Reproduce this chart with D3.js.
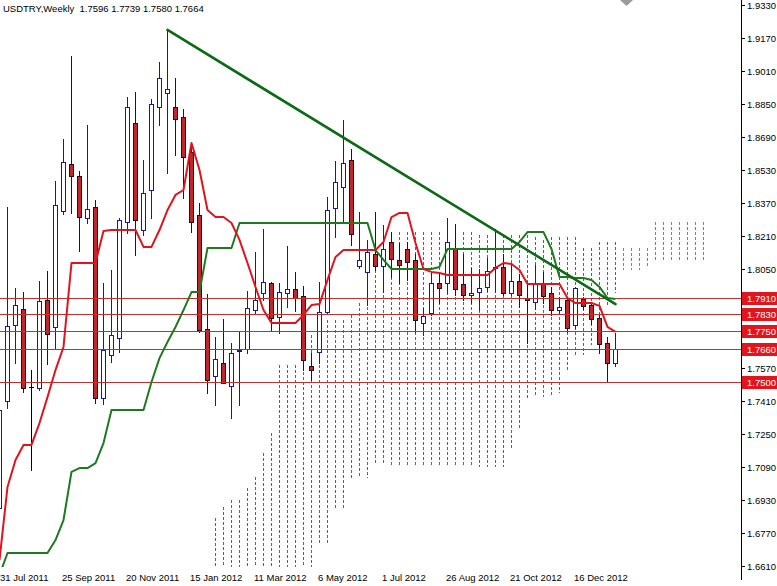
<!DOCTYPE html>
<html><head><meta charset="utf-8">
<script src="https://cdn.jsdelivr.net/npm/d3@7"></script>
<style>
html,body{margin:0;padding:0;background:#fff;}
svg{display:block;font-family:"Liberation Sans",Arial,sans-serif;}
</style></head>
<body>
<script>
// ---------- data ----------
const title = "USDTRY,Weekly  1.7596 1.7739 1.7580 1.7664";
const dateLabels = ["31 Jul 2011","25 Sep 2011","20 Nov 2011","15 Jan 2012","11 Mar 2012","6 May 2012","1 Jul 2012","26 Aug 2012","21 Oct 2012","16 Dec 2012"];
const dateLabelBars = [0,8,16,24,32,40,48,56,64,72];
const yTicks = [1.9330,1.9170,1.9010,1.8850,1.8690,1.8530,1.8370,1.8210,1.8050,1.7890,1.7730,1.7570,1.7410,1.7250,1.7090,1.6930,1.6770,1.6610];
const levels = [1.7910,1.7830,1.7750,1.7660,1.7500];

const open = [1.6891,1.7410,1.7778,1.7856,1.7478,1.7473,1.7900,1.7769,1.8331,1.8559,
1.8501,1.8297,1.8351,1.7425,1.7633,1.7716,1.8278,1.8758,1.8239,1.8433,
1.8835,1.8903,1.8835,1.8787,1.8617,1.8312,1.7759,1.7531,1.7594,1.7483,
1.7652,1.7662,1.7851,1.7934,1.7982,1.7817,1.7934,1.7953,1.7919,1.7580,
1.7648,1.7842,1.8346,1.8448,1.8578,1.8065,1.8036,1.8123,1.8065,1.8181,
1.8094,1.8147,1.8094,1.7788,1.7837,1.7982,1.7982,1.8152,1.7977,1.7924,
1.7938,1.7963,1.8055,1.8060,1.7934,1.7992,1.7907,1.7890,1.7977,1.7934,
1.7851,1.7900,1.7778,1.7905,1.7875,1.7812,1.7691,1.7596];
const high = [1.7415,1.8351,1.7958,1.7938,1.7560,1.7992,1.8040,1.8477,1.8680,1.9083,
1.8525,1.8748,1.8385,1.7982,1.8045,1.8297,1.8884,1.8908,1.8578,1.8874,
1.9054,1.9209,1.8976,1.8826,1.8651,1.8370,1.7929,1.7720,1.7808,1.7691,
1.7745,1.7943,1.8132,1.8244,1.7987,1.7982,1.8162,1.8036,1.7968,1.7643,
1.7987,1.8399,1.8574,1.8772,1.8632,1.8326,1.8191,1.8326,1.8263,1.8229,
1.8176,1.8181,1.8123,1.7861,1.8031,1.8026,1.8297,1.8268,1.8123,1.8055,
1.8050,1.8103,1.8244,1.8123,1.8079,1.8026,1.7982,1.8069,1.8036,1.7963,
1.7914,1.7909,1.7963,1.7914,1.7885,1.7827,1.7720,1.7739];
const low = [1.6833,1.7376,1.7594,1.7454,1.7075,1.7463,1.7589,1.7667,1.8317,1.8322,
1.8137,1.8273,1.7400,1.7396,1.7599,1.7648,1.8225,1.8118,1.8215,1.8297,
1.8748,1.8515,1.8603,1.8394,1.8229,1.7745,1.7449,1.7391,1.7495,1.7328,
1.7391,1.7643,1.7837,1.7900,1.7754,1.7740,1.7866,1.7846,1.7560,1.7512,
1.7594,1.7837,1.8205,1.8278,1.8166,1.8055,1.7875,1.8045,1.7938,1.8011,
1.7982,1.7997,1.7745,1.7730,1.7827,1.7885,1.7934,1.7924,1.7900,1.7885,
1.7851,1.7943,1.7938,1.7924,1.7924,1.7866,1.7691,1.7856,1.7885,1.7827,
1.7837,1.7745,1.7764,1.7856,1.7783,1.7643,1.7500,1.7580];
const close = [1.7366,1.7774,1.7875,1.7473,1.7478,1.7895,1.7735,1.8360,1.8569,1.8501,
1.8302,1.8341,1.7425,1.7657,1.7730,1.8288,1.8835,1.8288,1.8418,1.8850,
1.8976,1.8923,1.8777,1.8593,1.8278,1.7754,1.7512,1.7614,1.7497,1.7643,
1.7657,1.7861,1.7900,1.7987,1.7812,1.7938,1.7953,1.7909,1.7609,1.7560,
1.7842,1.8336,1.8472,1.8564,1.8220,1.8094,1.8132,1.8065,1.8147,1.8099,
1.8069,1.8084,1.7803,1.7822,1.7982,1.7958,1.8181,1.7953,1.7924,1.7934,
1.7958,1.8040,1.8060,1.7934,1.7992,1.7924,1.7902,1.7977,1.7919,1.7851,
1.7866,1.7764,1.7958,1.7871,1.7808,1.7686,1.7596,1.7664];

const tenkan = [1.6639,1.6993,1.7124,1.7197,1.7197,1.7303,1.7429,1.7560,1.7672,1.8079,
1.8079,1.8079,1.8079,1.8234,1.8239,1.8239,1.8239,1.8239,1.8157,1.8157,
1.8239,1.8336,1.8409,1.8433,1.8661,1.8530,1.8336,1.8302,1.8302,1.8273,
1.8191,1.8079,1.7963,1.7851,1.7788,1.7788,1.7788,1.7788,1.7827,1.7875,
1.7880,1.7997,1.8108,1.8142,1.8142,1.8142,1.8142,1.8142,1.8181,1.8302,
1.8322,1.8322,1.8176,1.8050,1.8036,1.8031,1.8021,1.8021,1.8021,1.8021,
1.8021,1.8021,1.8055,1.8079,1.8074,1.8045,1.7977,1.7977,1.7977,1.7977,
1.7977,1.7909,1.7885,1.7885,1.7885,1.7871,1.7769,1.7745];
const kijun = [1.6566,1.6673,1.6673,1.6673,1.6673,1.6673,1.6673,1.6736,1.6833,1.7066,
1.7085,1.7085,1.7109,1.7206,1.7366,1.7366,1.7366,1.7366,1.7366,1.7502,
1.7618,1.7696,1.7769,1.7851,1.7938,1.7938,1.8152,1.8152,1.8152,1.8152,
1.8273,1.8273,1.8273,1.8273,1.8273,1.8273,1.8273,1.8273,1.8273,1.8273,
1.8273,1.8273,1.8273,1.8273,1.8273,1.8273,1.8273,1.8142,1.8094,1.8050,
1.8050,1.8050,1.8050,1.8050,1.8050,1.8060,1.8147,1.8147,1.8147,1.8147,
1.8147,1.8147,1.8147,1.8147,1.8147,1.8181,1.8229,1.8229,1.8229,1.8147,
1.8011,1.8011,1.8006,1.8006,1.7997,1.7963,1.7909,1.7904];

const cloudStart = 27;
const spanA = [1.6843,1.6896,1.6930,1.6930,1.6988,1.7042,1.7158,1.7255,1.7585,1.7585,
1.7585,1.7599,1.7730,1.7803,1.7803,1.7803,1.7803,1.7827,1.7885,1.7987,
1.8094,1.8166,1.8229,1.8229,1.8229,1.8229,1.8229,1.8229,1.8229,1.8229,
1.8229,1.8229,1.8229,1.8215,1.8215,1.8215,1.8215,1.8215,1.8215,1.8215,
1.8205,1.8191,1.8205,1.8205,1.8205,1.8205,1.8152,1.8152,1.8181,1.8181,
1.8181,1.8045,1.8045,1.8045,1.8055,1.8084,1.8084,1.8084,1.8084,1.8084,
1.8084,1.8084];
const spanB = [1.6542,1.6542,1.6542,1.6542,1.6542,1.6542,1.6542,1.6542,1.6542,1.6542,
1.6542,1.6542,1.6591,1.6712,1.6712,1.6882,1.6882,1.7037,1.7037,1.7037,
1.7109,1.7109,1.7090,1.7090,1.7090,1.7090,1.7090,1.7090,1.7090,1.7090,
1.7090,1.7090,1.7090,1.7090,1.7090,1.7090,1.7090,1.7182,1.7279,1.7425,
1.7429,1.7429,1.7429,1.7449,1.7560,1.7623,1.7633,1.7682,1.7740,1.7875,
1.7934,1.8152,1.8152,1.8152,1.8152,1.8278,1.8278,1.8278,1.8278,1.8278,
1.8278,1.8278];

const trendBars = [21,77];
const trendVals = [1.9209,1.7880];

// ---------- layout ----------
const W = 777, H = 586;
const plotRight = 741, plotBottom = 567;
const x = d3.scaleLinear().domain([0, 92.75]).range([-1, plotRight]);
const y = d3.scaleLinear().domain([1.6610, 1.6610 + 566/2062.5]).range([566, 0]);

const svg = d3.select("body").append("svg").attr("width", W).attr("height", H);
svg.append("rect").attr("width", W).attr("height", H).attr("fill", "#fff");
svg.append("clipPath").attr("id","plot").append("rect").attr("x",0).attr("y",0).attr("width",plotRight).attr("height",plotBottom);
const g = svg.append("g").attr("clip-path","url(#plot)");

// cloud
const cloud = g.append("g").attr("shape-rendering","crispEdges");
spanA.forEach((a, k) => {
  const b = spanB[k];
  const i = cloudStart + k;
  const cx = x(i) + 0.5;
  cloud.append("line")
    .attr("x1", cx).attr("x2", cx)
    .attr("y1", y(Math.max(a,b))).attr("y2", y(Math.min(a,b)))
    .attr("stroke", a >= b ? "#2a7f62" : "#d06a1c")
    .attr("stroke-width", 1)
    .attr("stroke-dasharray", "3,2");
});

// candles
const cg = g.append("g").attr("shape-rendering","crispEdges");
open.forEach((o, i) => {
  const c = close[i], h = high[i], l = low[i];
  const cx = Math.round(x(i));
  const bull = c > o, doji = c === o;
  const wickCol = doji ? "#000" : (bull ? "#1a1a8a" : "#1a1a1a");
  cg.append("line").attr("x1", cx+0.5).attr("x2", cx+0.5)
    .attr("y1", Math.round(y(h))).attr("y2", Math.round(y(l))+1)
    .attr("stroke", wickCol).attr("stroke-width",1);
  const yt = Math.round(y(Math.max(o,c))), yb = Math.round(y(Math.min(o,c)));
  if (doji) {
    cg.append("line").attr("x1", cx-2).attr("x2", cx+3).attr("y1", yt+0.5).attr("y2", yt+0.5).attr("stroke","#000");
  } else {
    cg.append("rect").attr("x", cx-2+0.5).attr("y", yt+0.5)
      .attr("width", 4).attr("height", Math.max(yb-yt, 1))
      .attr("fill", bull ? "#ffffff" : "#c0262b")
      .attr("stroke", bull ? "#1a1a8a" : "#2a1010").attr("stroke-width",1);
  }
});

// horizontal levels
levels.forEach(v => {
  g.append("line").attr("x1",0).attr("x2",plotRight)
    .attr("y1", Math.round(y(v))+0.5).attr("y2", Math.round(y(v))+0.5)
    .attr("stroke","#c0302f").attr("stroke-width",1);
});

// indicator lines
const lineGen = d3.line().x((d,i)=>x(i)+0.5).y(d=>y(d));
g.append("path").datum(kijun).attr("d", lineGen).attr("fill","none")
  .attr("stroke","#1f7a1f").attr("stroke-width",2).attr("stroke-linejoin","round");
g.append("path").datum(tenkan).attr("d", lineGen).attr("fill","none")
  .attr("stroke","#e0141e").attr("stroke-width",2).attr("stroke-linejoin","round");

// trend line
g.append("line")
  .attr("x1", x(trendBars[0])+0.5).attr("y1", y(trendVals[0]))
  .attr("x2", x(trendBars[1])+0.5).attr("y2", y(trendVals[1]))
  .attr("stroke","#0b6b14").attr("stroke-width",2.6).attr("stroke-linecap","round");

// right axis
svg.append("line").attr("x1",plotRight+0.5).attr("x2",plotRight+0.5).attr("y1",0).attr("y2",580)
  .attr("stroke","#000").attr("stroke-width",1).attr("shape-rendering","crispEdges");
const ax = svg.append("g");
const covered = v => levels.some(l => Math.abs(y(l) - y(v)) < 10);
yTicks.forEach(v => {
  const yy = Math.round(y(v));
  ax.append("line").attr("x1",plotRight).attr("x2",plotRight+4).attr("y1",yy+0.5).attr("y2",yy+0.5)
    .attr("stroke","#000").attr("shape-rendering","crispEdges");
  if (!covered(v)) {
    ax.append("text").attr("x",plotRight+6).attr("y",yy+4).attr("font-size","9.5px").attr("fill","#000").text(v.toFixed(4));
  }
});
levels.forEach(v => {
  const yy = Math.round(y(v));
  ax.append("rect").attr("x",plotRight+1).attr("y",yy-6).attr("width",W-plotRight-1).attr("height",13).attr("fill","#e3141c");
  ax.append("text").attr("x",plotRight+6).attr("y",yy+4).attr("font-size","9.5px").attr("fill","#fff").text(v.toFixed(4));
});

// bottom date labels
dateLabels.forEach((t, k) => {
  svg.append("text").attr("x", Math.max(0, x(dateLabelBars[k])-1)).attr("y", 581)
    .attr("font-size","9.5px").attr("fill","#000").text(t);
});

// title
svg.append("text").attr("x",3).attr("y",12).attr("font-size","9.5px").attr("fill","#000")
  .style("white-space","pre").text(title);

// chart shift marker
svg.append("path").attr("d","M620,0 L633,0 L626.5,6 Z").attr("fill","#9a9a9a");
</script>
</body></html>
